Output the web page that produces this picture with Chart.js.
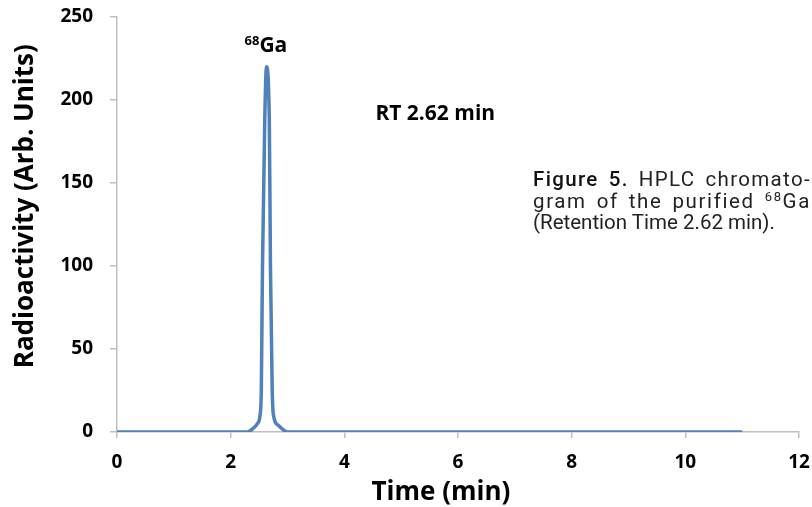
<!DOCTYPE html>
<html><head><meta charset="utf-8">
<script src="https://cdn.jsdelivr.net/npm/chart.js@4"></script>
<style>
html,body{margin:0;padding:0;background:#fff;}
#wrap{position:relative;width:812px;height:507px;overflow:hidden;}
canvas{position:absolute;left:0;top:0;}
#cap{position:absolute;left:533px;top:169px;font-family:Roboto,"Liberation Sans",sans-serif;font-size:20.5px;line-height:21.7px;color:#222;}
#cap .j{width:278px;text-align:justify;text-align-last:justify;white-space:nowrap;}
#cap b{font-weight:500;color:#111;}
#cap sup{font-size:13px;line-height:0;vertical-align:7px;}
</style></head><body>
<div id="wrap">
<canvas id="c" width="812" height="507"></canvas>
<div id="cap">
<div class="j"><span><b>Figure 5.</b> HPLC chromato-</span></div>
<div class="j"><span>gram of the purified <sup>68</sup>Ga</span></div>
<div>(Retention Time 2.62 min).</div>
</div>
</div>
<script>
// fit justified caption lines mostly with letter spacing
document.querySelectorAll('#cap .j').forEach(d => {
  const s = d.querySelector('span');
  d.style.textAlignLast = 'left';
  const w = s.getBoundingClientRect().width;
  const n = s.textContent.length;
  s.style.letterSpacing = ((278 - w) / n * 0.75) + 'px';
  d.style.textAlignLast = 'justify';
});

const timeMin = [0, 1, 2, 2.3, 2.39, 2.47, 2.52, 2.54, 2.56, 2.60, 2.63, 2.68, 2.70, 2.73, 2.75, 2.84, 2.92, 3.0, 4, 6, 8, 10, 11];
const radioactivity = [0, 0, 0, 0, 2, 5, 11, 27, 100, 188, 220, 188, 100, 27, 11, 4, 1.5, 0, 0, 0, 0, 0, 0];
const xTicks = [0, 2, 4, 6, 8, 10, 12];
const yTicks = [0, 50, 100, 150, 200, 250];
const peakLabel = {x: 2.62, y: 220, iso: "68", el: "Ga"};
const rtLabel = {x: 5.6, y: 188, text: "RT 2.62 min"};
const xTitle = {text: "Time (min)", at: 5.7};
const yTitle = {text: "Radioactivity (Arb. Units)", at: 136};

const FONT = "'Open Sans', 'Liberation Sans', sans-serif";

const labelPlugin = {
  id: 'labels',
  afterDraw(chart) {
    const ctx = chart.ctx, xs = chart.scales.x, ys = chart.scales.y;
    ctx.save();
    ctx.fillStyle = '#000';
    const px = xs.getPixelForValue(peakLabel.x);
    const py = ys.getPixelForValue(peakLabel.y);
    ctx.font = "bold 13px " + FONT;
    const w1 = ctx.measureText(peakLabel.iso).width;
    ctx.font = "bold 21px " + FONT;
    const w2 = ctx.measureText(peakLabel.el).width;
    const left = px - (w1 + w2) / 2;
    ctx.textBaseline = 'alphabetic';
    ctx.textAlign = 'left';
    ctx.font = "bold 13px " + FONT;
    ctx.fillText(peakLabel.iso, left, py - 22);
    ctx.font = "bold 21px " + FONT;
    ctx.fillText(peakLabel.el, left + w1, py - 15);
    ctx.textAlign = 'center';
    ctx.fillText(rtLabel.text, xs.getPixelForValue(rtLabel.x), ys.getPixelForValue(rtLabel.y));
    // axis titles
    ctx.font = "bold 26px " + FONT;
    ctx.fillText(xTitle.text, xs.getPixelForValue(xTitle.at), 500);
    ctx.translate(33, ys.getPixelForValue(yTitle.at));
    ctx.rotate(-Math.PI / 2);
    ctx.fillText(yTitle.text, 0, 0);
    ctx.restore();
  }
};

new Chart(document.getElementById('c'), {
  type: 'line',
  data: {
    datasets: [{
      data: timeMin.map((t, i) => ({x: t, y: radioactivity[i]})),
      borderColor: '#4F81BD',
      borderWidth: 3.5,
      pointRadius: 0,
      fill: false,
      cubicInterpolationMode: 'monotone'
    }]
  },
  options: {
    responsive: false,
    animation: false,
    events: [],
    layout: {padding: {left: 0, right: 13, top: 17, bottom: 0}},
    plugins: {legend: {display: false}, tooltip: {enabled: false}},
    scales: {
      x: {
        type: 'linear', min: 0, max: 12,
        afterBuildTicks(s) { s.ticks = xTicks.map(v => ({value: v})); },
        afterFit(s) { s.height = 75; s.paddingLeft = 0; s.paddingRight = 0; },
        grid: {drawOnChartArea: false, color: '#bfbfbf', tickLength: 6, lineWidth: 1.5},
        border: {color: '#bfbfbf', width: 1.5},
        ticks: {color: '#000', font: {family: FONT, size: 19, weight: 'bold'}, padding: 13, maxRotation: 0},
        title: {display: false}
      },
      y: {
        type: 'linear', min: 0, max: 250,
        afterBuildTicks(s) { s.ticks = yTicks.map(v => ({value: v})); },
        afterFit(s) { s.width = 117; s.paddingTop = 0; s.paddingBottom = 0; },
        grid: {drawOnChartArea: false, color: '#bfbfbf', tickLength: 7, lineWidth: 1.5},
        border: {color: '#bfbfbf', width: 1.5},
        ticks: {color: '#000', font: {family: FONT, size: 19, weight: 'bold'}, padding: 17},
        title: {display: false}
      }
    }
  },
  plugins: [labelPlugin]
});
</script>
</body></html>
